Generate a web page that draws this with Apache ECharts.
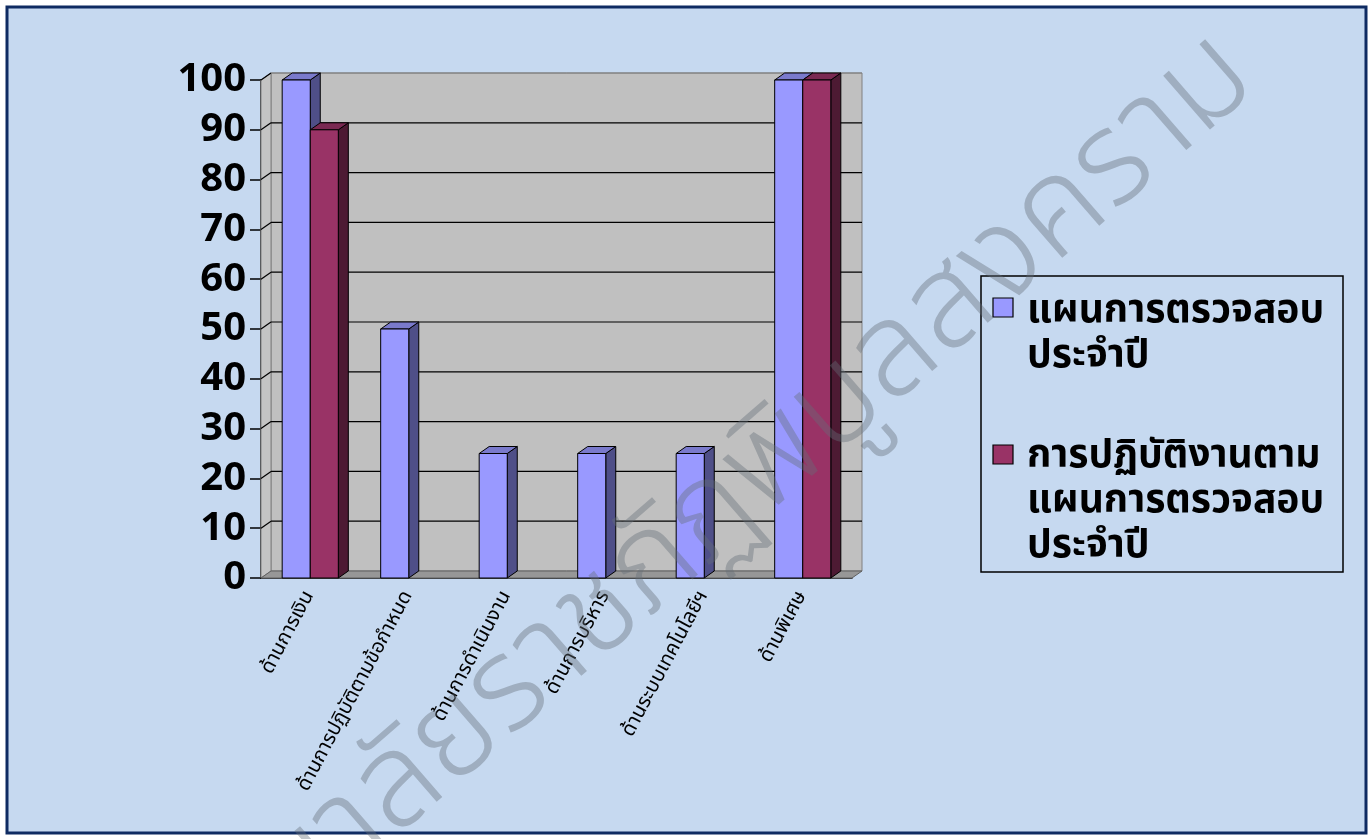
<!DOCTYPE html>
<html>
<head>
<meta charset="utf-8">
<script src="https://cdn.jsdelivr.net/npm/echarts/dist/echarts.min.js"></script>
<style>
  html, body { margin: 0; padding: 0; background: #fff; }
  #chart { width: 1371px; height: 839px; }
</style>
</head>
<body>
<div id="chart"></div>
<script>
  // data
  var categories = ['ด้านการเงิน', 'ด้านการปฏิบัติตามข้อกำหนด', 'ด้านการดำเนินงาน', 'ด้านการบริหาร', 'ด้านระบบเทคโนโลยีฯ', 'ด้านพิเศษ'];
  var planValues = [100, 50, 25, 25, 25, 100];
  var actualValues = [90, 0, 0, 0, 0, 100];
  var seriesNames = ['แผนการตรวจสอบ\nประจำปี', 'การปฏิบัติงานตาม\nแผนการตรวจสอบ\nประจำปี'];
  var yTicks = [0, 10, 20, 30, 40, 50, 60, 70, 80, 90, 100];
  var watermark = 'มหาวิทยาลัยราชภัฏพิบูลสงคราม';

  var DX = 10, DY = -7; // 3d depth
  var thaiFont = 'Tahoma, "Noto Sans Thai", "DejaVu Sans", sans-serif';
  var colors = [
    { front: '#9999ff', side: '#4f4f88', top: '#7a7acc' },
    { front: '#993366', side: '#4d1a33', top: '#7a2952' }
  ];

  var myChart = echarts.init(document.getElementById('chart'));

  function barItem(sIdx) {
    return function (params, api) {
      var i = api.value(0), v = api.value(1);
      if (!(v > 0)) return;
      var top = api.coord([i, v]);
      var base = api.coord([i, 0]);
      var bw = api.size([1, 0])[0] * 0.285;
      var x0 = sIdx === 0 ? top[0] - bw : top[0];
      var x1 = x0 + bw;
      var c = colors[sIdx];
      var st = { stroke: '#000', lineWidth: 1 };
      return {
        type: 'group',
        children: [
          { type: 'polygon', shape: { points: [[x1, top[1]], [x1 + DX, top[1] + DY], [x1 + DX, base[1] + DY], [x1, base[1]]] },
            style: Object.assign({ fill: c.side }, st) },
          { type: 'polygon', shape: { points: [[x0, top[1]], [x0 + DX, top[1] + DY], [x1 + DX, top[1] + DY], [x1, top[1]]] },
            style: Object.assign({ fill: c.top }, st) },
          { type: 'rect', shape: { x: x0, y: top[1], width: bw, height: base[1] - top[1] },
            style: Object.assign({ fill: c.front }, st) }
        ]
      };
    };
  }

  var option = {
    animation: false,
    backgroundColor: '#ffffff',
    grid: { left: 261, right: 519, top: 80, bottom: 261 },
    xAxis: {
      type: 'category',
      data: categories,
      axisLine: { lineStyle: { color: '#000', width: 1.5 } },
      axisTick: { length: 10, lineStyle: { color: '#000', width: 1.5 } },
      axisLabel: { interval: 0, rotate: 62, margin: 15, color: '#000', fontSize: 20, fontFamily: thaiFont }
    },
    yAxis: {
      type: 'value',
      min: 0, max: 100, interval: 10,
      axisLine: { show: true, lineStyle: { color: '#000', width: 1.5 } },
      axisTick: { show: true, length: 11, lineStyle: { color: '#000', width: 1.5 } },
      splitLine: { show: false },
      axisLabel: { margin: 15, color: '#000', fontSize: 40, fontWeight: 'bold', fontFamily: '"Open Sans", "Noto Sans", sans-serif' }
    },
    graphic: [
      { type: 'rect', z: -10, shape: { x: 7, y: 7, width: 1359, height: 826 },
        style: { fill: '#c6d9f0', stroke: '#0f2b62', lineWidth: 3 } },
      // legend box
      { type: 'rect', z: 1, shape: { x: 981, y: 276, width: 362, height: 296 },
        style: { fill: 'none', stroke: '#000', lineWidth: 1.5 } },
      { type: 'rect', z: 1, shape: { x: 993, y: 298, width: 20, height: 19 },
        style: { fill: colors[0].front, stroke: '#000', lineWidth: 1.2 } },
      { type: 'text', z: 1, x: 1027, y: 292,
        style: { text: seriesNames[0], fill: '#000', font: 'bold 39px ' + thaiFont, lineHeight: 45 } },
      { type: 'rect', z: 1, shape: { x: 993, y: 445, width: 20, height: 19 },
        style: { fill: colors[1].front, stroke: '#000', lineWidth: 1.2 } },
      { type: 'text', z: 1, x: 1027, y: 437,
        style: { text: seriesNames[1], fill: '#000', font: 'bold 39px ' + thaiFont, lineHeight: 45 } },
      // watermark
      { type: 'text', z: 100, x: 1243, y: 66, rotation: 41 * Math.PI / 180,
        style: { text: watermark, fill: 'rgba(100,110,120,0.4)', font: '300 130px ' + thaiFont, align: 'right', verticalAlign: 'middle' } }
    ],
    series: [
      {
        type: 'custom', z: 1, silent: true,
        data: [[0, 0]],
        renderItem: function (params, api) {
          var cs = params.coordSys;
          var y0 = api.coord([0, 0])[1];
          return {
            type: 'group',
            children: [
              { type: 'rect', shape: { x: cs.x + DX, y: cs.y + DY, width: cs.width, height: cs.height },
                style: { fill: '#c0c0c0', stroke: '#808080', lineWidth: 1 } },
              { type: 'polygon', shape: { points: [[cs.x, cs.y], [cs.x + DX, cs.y + DY], [cs.x + DX, y0 + DY], [cs.x, y0]] },
                style: { fill: '#c4c4c4', stroke: '#808080', lineWidth: 1 } },
              { type: 'polygon', shape: { points: [[cs.x, y0], [cs.x + DX, y0 + DY], [cs.x + cs.width + DX, y0 + DY], [cs.x + cs.width, y0]] },
                style: { fill: '#979797', stroke: '#606060', lineWidth: 1 } }
            ]
          };
        }
      },
      {
        type: 'custom', z: 1.5, silent: true,
        data: yTicks.map(function (t) { return [0, t]; }),
        renderItem: function (params, api) {
          var t = api.value(1);
          if (t === 0) return;
          var cs = params.coordSys;
          var y = api.coord([0, t])[1];
          var col = t === 100 ? '#808080' : '#000';
          return {
            type: 'group',
            children: [
              { type: 'line', shape: { x1: cs.x, y1: y, x2: cs.x + DX, y2: y + DY }, style: { stroke: '#000', lineWidth: 1.2 } },
              { type: 'line', shape: { x1: cs.x + DX, y1: y + DY, x2: cs.x + cs.width + DX, y2: y + DY }, style: { stroke: col, lineWidth: 1.2 } }
            ]
          };
        }
      },
      {
        name: seriesNames[0], type: 'custom', z: 3,
        data: planValues.map(function (v, i) { return [i, v]; }),
        renderItem: barItem(0)
      },
      {
        name: seriesNames[1], type: 'custom', z: 3,
        data: actualValues.map(function (v, i) { return [i, v]; }),
        renderItem: barItem(1)
      }
    ]
  };

  myChart.setOption(option);
  window.addEventListener('resize', function () {
    myChart.resize();
  });
</script>
</body>
</html>
